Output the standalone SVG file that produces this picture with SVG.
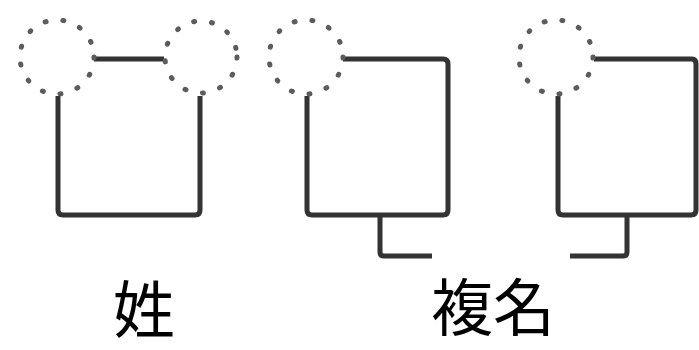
<svg xmlns="http://www.w3.org/2000/svg" width="699" height="350" viewBox="0 0 699 350">
<style>
.dot{fill:none;stroke:#5c5c5c;stroke-width:5;stroke-linecap:round;stroke-dasharray:1 17}
.ln{fill:none;stroke:#333;stroke-width:5;stroke-linejoin:round;stroke-linecap:butt}
.lbl{font-family:"Noto Sans CJK JP","Noto Sans CJK SC",sans-serif;font-size:62px;fill:#000}
</style>
<rect width="699" height="350" fill="#fff"/>
<g id="connectors">
<path class="ln" d="M94,59 H164"/>
<path class="ln" d="M58,96 V210 Q58,215 63,215 H195 Q200,215 200,210 V96"/>
<path class="ln" d="M343,59 H443 Q448,59 448,64 V210 Q448,215 443,215 H312 Q307,215 307,210 V96"/>
<path class="ln" d="M380,215 V252 Q380,256 384,256 H432"/>
<path class="ln" d="M594,59 H692 Q696,59 696,64 V210 Q696,215 691,215 H563 Q558,215 558,210 V96"/>
<path class="ln" d="M627,215 V252 Q627,256 623,256 H570"/>
</g>
<g id="n1"><circle class="dot" cx="57" cy="57" r="37"/></g>
<g id="n2"><circle class="dot" cx="201" cy="57" r="36"/></g>
<g id="n3"><circle class="dot" cx="306" cy="57" r="37"/></g>
<g id="n4"><circle class="dot" cx="556" cy="57" r="37"/></g>
<g id="labels">
<text class="lbl" x="113" y="333">姓</text>
<text class="lbl" x="431" y="331">複名</text>
</g>
</svg>
